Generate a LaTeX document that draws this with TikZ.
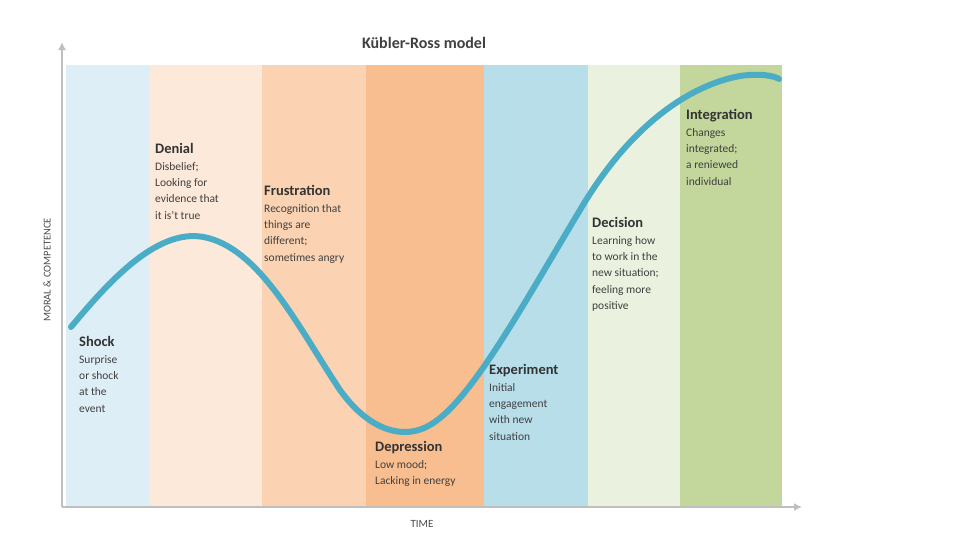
\documentclass[tikz,border=0pt]{standalone}
\usepackage{fontspec}
\usetikzlibrary{arrows.meta}
\setmainfont{Carlito}
\begin{document}
\begin{tikzpicture}[x=1pt,y=-1pt,
  band/.style={draw=none},
  ttl/.style={anchor=north west,font=\fontsize{14.5}{16}\selectfont\bfseries,text=black!80,inner sep=0},
  body/.style={anchor=north west,font=\fontsize{11.5}{16.3}\selectfont,text=black!75,align=left,inner sep=0},
  ax/.style={draw=black!25,line width=1.5pt,-{Latex[length=8pt,width=8pt]}}]
\useasboundingbox (0,0) rectangle (956,542);
\fill[white] (0,0) rectangle (956,542);
\definecolor{c1}{HTML}{DDEEF7}\definecolor{c2}{HTML}{FDE9D9}\definecolor{c3}{HTML}{FBD3B2}
\definecolor{c4}{HTML}{F9BE8F}\definecolor{c5}{HTML}{B8DEE9}\definecolor{c6}{HTML}{EBF1DF}
\definecolor{c7}{HTML}{C3D69B}\definecolor{cv}{HTML}{4BACC6}
\fill[c1] (66,65) rectangle (150,507);
\fill[c2] (150,65) rectangle (262,507);
\fill[c3] (262,65) rectangle (366,507);
\fill[c4] (366,65) rectangle (484,507);
\fill[c5] (484,65) rectangle (588,507);
\fill[c6] (588,65) rectangle (680,507);
\fill[c7] (680,65) rectangle (782,507);
\coordinate (o) at (62,507);
\coordinate (yt) at (62,42);
\coordinate (xt) at (802,507);
\draw[ax] (o) -- (yt);
\draw[ax] (o) -- (xt);
\node (title) at (424,43) {\fontsize{16}{18}\selectfont\bfseries\color{black!75}Kübler-Ross model};
\node (xl) at (422,524) {\fontsize{11}{12}\selectfont\color{black!70}TIME};
\node[rotate=90] (yl) at (47,270) {\fontsize{10.5}{12}\selectfont\color{black!70}MORAL \& COMPETENCE};
\draw[cv,line width=6pt,line cap=round] (71,327) .. controls (110,280) and (160,225) .. (208,238)
  .. controls (262,252) and (300,330) .. (340,390)
  .. controls (370,432) and (405,440) .. (430,425)
  .. controls (470,402) and (520,310) .. (580,210)
  .. controls (630,125) and (690,85) .. (740,76)
  .. controls (760,73) and (775,76) .. (779,79);
\node[ttl] (t1) at (79,336) {Shock};
\node[body] (b1) at (79,355) {Surprise\\or shock\\at the\\event};
\node[ttl] (t2) at (155,143) {Denial};
\node[body] (b2) at (155,162) {Disbelief;\\Looking for\\evidence that\\it is't true};
\node[ttl] (t3) at (264,185) {Frustration};
\node[body] (b3) at (264,204) {Recognition that\\things are\\different;\\sometimes angry};
\node[ttl] (t4) at (375,441) {Depression};
\node[body] (b4) at (375,460) {Low mood;\\Lacking in energy};
\node[ttl] (t5) at (489,364) {Experiment};
\node[body] (b5) at (489,383) {Initial\\engagement\\with new\\situation};
\node[ttl] (t6) at (592,217) {Decision};
\node[body] (b6) at (592,236) {Learning how\\to work in the\\new situation;\\feeling more\\positive};
\node[ttl] (t7) at (686,109) {Integration};
\node[body] (b7) at (686,128) {Changes\\integrated;\\a reniewed\\individual};
\end{tikzpicture}
\end{document}
